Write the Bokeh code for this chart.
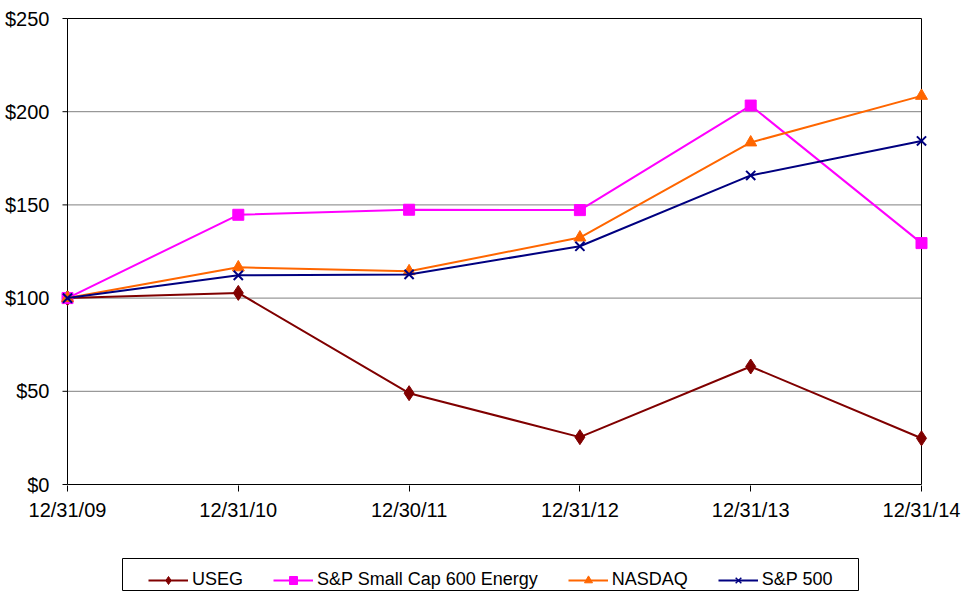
from bokeh.plotting import figure
from bokeh.models import Legend, LegendItem, FixedTicker, Range1d
from bokeh.layouts import column
from bokeh.embed import file_html
from bokeh.resources import INLINE

dates = ["12/31/09", "12/31/10", "12/30/11", "12/31/12", "12/31/13", "12/31/14"]
useg = [100, 102.8, 49, 25.4, 63.3, 24.8]
sp600_energy = [100, 144.7, 147.4, 147.2, 203.3, 129.5]
nasdaq = [100, 116.5, 114.4, 132.5, 183.5, 208.5]
sp500 = [100, 112.2, 112.7, 127.8, 165.8, 184.3]
y_ticks = [0, 50, 100, 150, 200, 250]

xs = list(range(len(dates)))
FONT = "Liberation Sans"
W = 967
FL, FR = 60, 928   # frame left / right in pixels

PX_X = 854 / 5.0
PX_Y = 466 / 250.0
EXT_X = 7 / PX_X
EXT_Y = 1 / PX_Y
TICK = 5 / PX_X

p = figure(width=W, height=525, output_backend="svg", toolbar_location=None,
           x_range=Range1d(-EXT_X, 5 + EXT_X), y_range=Range1d(-EXT_Y, 250 + EXT_Y),
           min_border_left=FL, min_border_right=W - FR, min_border_top=17,
           min_border_bottom=40)
p.background_fill_color = "white"
p.border_fill_color = "white"
p.outline_line_color = None
p.xgrid.visible = False
p.ygrid.visible = False

p.xaxis.ticker = FixedTicker(ticks=xs)
p.xaxis.major_label_overrides = {i: d for i, d in enumerate(dates)}
p.yaxis.ticker = FixedTicker(ticks=y_ticks)
p.yaxis.major_label_overrides = {t: "$%d" % t for t in y_ticks}
for ax in (p.xaxis[0], p.yaxis[0]):
    ax.axis_line_color = None
    ax.minor_tick_line_color = None
    ax.major_tick_in = 0
    ax.major_label_text_font = FONT
    ax.major_label_text_font_size = "20px"
    ax.major_label_text_color = "black"
p.xaxis.major_tick_line_color = "black"
p.xaxis.major_tick_out = 6
p.xaxis.major_label_standoff = 7
p.yaxis.major_tick_line_color = None
p.yaxis.major_tick_out = 0
p.yaxis.major_label_standoff = 11

inner = y_ticks[1:-1]
p.segment(x0=[0] * len(inner), x1=[5] * len(inner), y0=inner, y1=inner,
          line_color="#808080", line_width=1)
p.segment(x0=[-TICK] * len(y_ticks), x1=[0] * len(y_ticks), y0=y_ticks, y1=y_ticks,
          line_color="black", line_width=1)
p.segment(x0=[0, 5, 0, 0], x1=[0, 5, 5, 5], y0=[0, 0, 0, 250], y1=[250, 250, 0, 250],
          line_color="black", line_width=1)

series = [
    ("USEG", useg, "#800000", "diamond", 15, 10),
    ("S&P Small Cap 600 Energy", sp600_energy, "#FF00FF", "square", 11, 8),
    ("NASDAQ", nasdaq, "#FF6600", "triangle", 12, 9),
    ("S&P 500", sp500, "#000080", "x", 13, 10),
]

lg = figure(width=W, height=70, output_backend="svg", toolbar_location=None,
            x_range=Range1d(FL, FR), y_range=Range1d(0, 70),
            min_border_left=FL, min_border_right=W - FR, min_border_top=0,
            min_border_bottom=0)
lg.axis.visible = False
lg.grid.visible = False
lg.outline_line_color = None
lg.background_fill_color = "white"
lg.border_fill_color = "white"
lg.quad(left=[122], right=[858], bottom=[5], top=[37], fill_color="white",
        line_color="black", line_width=1)

items = []
for name, vals, col, mk, sz, lsz in series:
    p.line(xs, vals, line_color=col, line_width=2)
    p.scatter(xs, vals, marker=mk, size=sz, fill_color=col, line_color=col,
              line_width=2 if mk == "x" else 1)
    # hidden stand-ins (outside the legend figure's range) for the legend glyphs
    d1 = lg.line([0, 1], [0, 1], line_color=col, line_width=2)
    d2 = lg.scatter([0], [0], marker=mk, size=lsz, fill_color=col, line_color=col,
                    line_width=1.5 if mk == "x" else 1)
    items.append(LegendItem(label=name, renderers=[d1, d2]))

legend = Legend(items=items, orientation="horizontal", location=(148 - FL, 5),
                glyph_width=40, glyph_height=20, label_standoff=4, spacing=30,
                padding=6, margin=0,
                label_text_font=FONT, label_text_font_size="18px",
                label_text_color="black",
                border_line_color=None, background_fill_alpha=0)
lg.add_layout(legend, "center")

layout = column(p, lg)
open("out.html", "w").write(file_html(layout, INLINE))
